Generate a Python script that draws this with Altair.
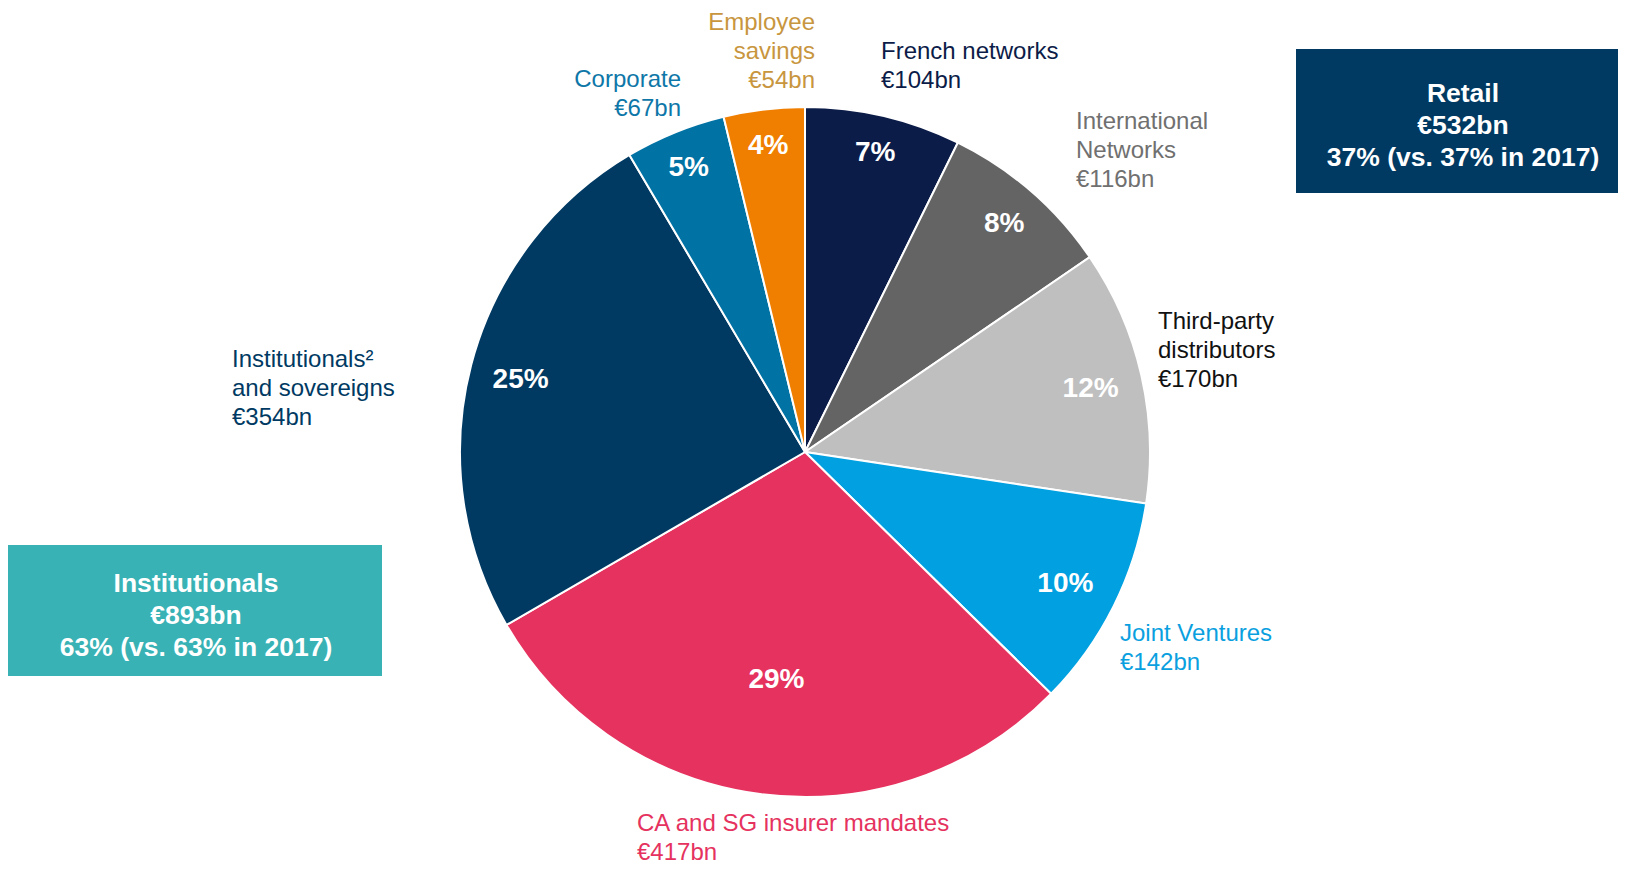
import altair as alt
import pandas as pd

# ---------------- data ----------------
segments = ["French networks", "International Networks", "Third-party distributors",
            "Joint Ventures", "CA and SG insurer mandates", "Institutionals and sovereigns",
            "Corporate", "Employee savings"]
amounts = [104, 116, 170, 142, 417, 354, 67, 54]
shares = ["7%", "8%", "12%", "10%", "29%", "25%", "5%", "4%"]
label_lines = [
    ["French networks", "€104bn"],
    ["International", "Networks", "€116bn"],
    ["Third-party", "distributors", "€170bn"],
    ["Joint Ventures", "€142bn"],
    ["CA and SG insurer mandates", "€417bn"],
    ["Institutionals²", "and sovereigns", "€354bn"],
    ["Corporate", "€67bn"],
    ["Employee", "savings", "€54bn"],
]
groups = ["Retail", "Institutionals"]
group_amounts = ["€532bn", "€893bn"]
group_shares = ["37% (vs. 37% in 2017)", "63% (vs. 63% in 2017)"]

# ---------------- layout / style ----------------
W, H = 1610, 856
CX, CY, R = 797, 444, 345
slice_colors = ["#0C1C48", "#646464", "#BFBFBF", "#00A0E1", "#E5325E", "#003A63", "#0072A3", "#F07F00"]
label_colors = ["#0C1C48", "#707070", "#111111", "#0AA0E0", "#E5325E", "#003A63", "#0E77A8", "#C8963E"]
pct_radius = [309, 304, 293, 291, 228, 294, 309, 310]
label_anchor = [  # x, y of first line centre, align
    (873, 44, "left"), (1068, 114, "left"), (1150, 314, "left"), (1112, 626, "left"),
    (629, 816, "left"), (224, 352, "left"), (673, 72, "right"), (807, 15, "right"),
]
LINE_H = 29
box_rect = [(1288, 1610, 41, 185), (0, 374, 537, 668)]
box_text = [(1455, 86), (188, 576)]
box_colors = ["#003A63", "#38B2B5"]
BOX_LINE_H = 32.2
FONT = "Liberation Sans"

# ---------------- tables ----------------
pie = pd.DataFrame({"segment": segments, "amount": amounts, "share": shares,
                    "idx": list(range(len(segments))), "pr": pct_radius})

rows = []
for i, lines in enumerate(label_lines):
    x, y, al = label_anchor[i]
    for j, t in enumerate(lines):
        rows.append({"x": x, "y": y + j * LINE_H, "text": t, "align": al, "col": label_colors[i]})
labels = pd.DataFrame(rows)

brow = []
trow = []
for k, g in enumerate(groups):
    x1, x2, y1, y2 = box_rect[k]
    brow.append({"x1": x1, "x2": x2, "y1": y1, "y2": y2, "col": box_colors[k]})
    tx, ty = box_text[k]
    for j, t in enumerate([g, group_amounts[k], group_shares[k]]):
        trow.append({"x": tx, "y": ty + j * BOX_LINE_H, "text": t})
boxes = pd.DataFrame(brow)
btexts = pd.DataFrame(trow)

# ---------------- chart ----------------
arcs = alt.Chart(pie).mark_arc(outerRadius=R, stroke="white", strokeWidth=2).encode(
    theta=alt.Theta("amount:Q", stack=True),
    color=alt.Color("segment:N", scale=alt.Scale(domain=segments, range=slice_colors), legend=None),
    order=alt.Order("idx:Q"),
    x=alt.value(CX), y=alt.value(CY),
)

pcts = alt.Chart(pie).transform_joinaggregate(
    total="sum(amount)"
).transform_window(
    cum="sum(amount)", sort=[alt.SortField("idx")], frame=[None, 0]
).transform_calculate(
    mid="2*PI*(datum.cum - datum.amount/2)/datum.total",
).transform_calculate(
    px=f"{CX} + datum.pr*sin(datum.mid)",
    py=f"{CY} - datum.pr*cos(datum.mid)",
).mark_text(font=FONT, fontSize=28, fontWeight="bold", color="white",
            baseline="middle", align="center", dy=2).encode(
    x=alt.X("px:Q", scale=None), y=alt.Y("py:Q", scale=None),
    text="share:N",
)

def label_layer(al):
    return alt.Chart(labels[labels["align"] == al]).mark_text(
        font=FONT, fontSize=24, align=al, baseline="middle").encode(
        x=alt.X("x:Q", scale=None), y=alt.Y("y:Q", scale=None),
        text="text:N", color=alt.Color("col:N", scale=None))

rects = alt.Chart(boxes).mark_rect().encode(
    x=alt.X("x1:Q", scale=None), x2="x2:Q",
    y=alt.Y("y1:Q", scale=None), y2="y2:Q",
    color=alt.Color("col:N", scale=None))
rtexts = alt.Chart(btexts).mark_text(font=FONT, fontSize=26.5, fontWeight="bold", color="white",
                                      align="center", baseline="middle").encode(
    x=alt.X("x:Q", scale=None), y=alt.Y("y:Q", scale=None), text="text:N")

chart = alt.layer(arcs, pcts, label_layer("left"), label_layer("right"), rects, rtexts).properties(
    width=W, height=H, padding=0, autosize=alt.AutoSizeParams(type="none")
).configure_view(stroke=None).resolve_scale(color="independent")

chart.save("out.html", embed_options={"renderer": "svg", "actions": False})
